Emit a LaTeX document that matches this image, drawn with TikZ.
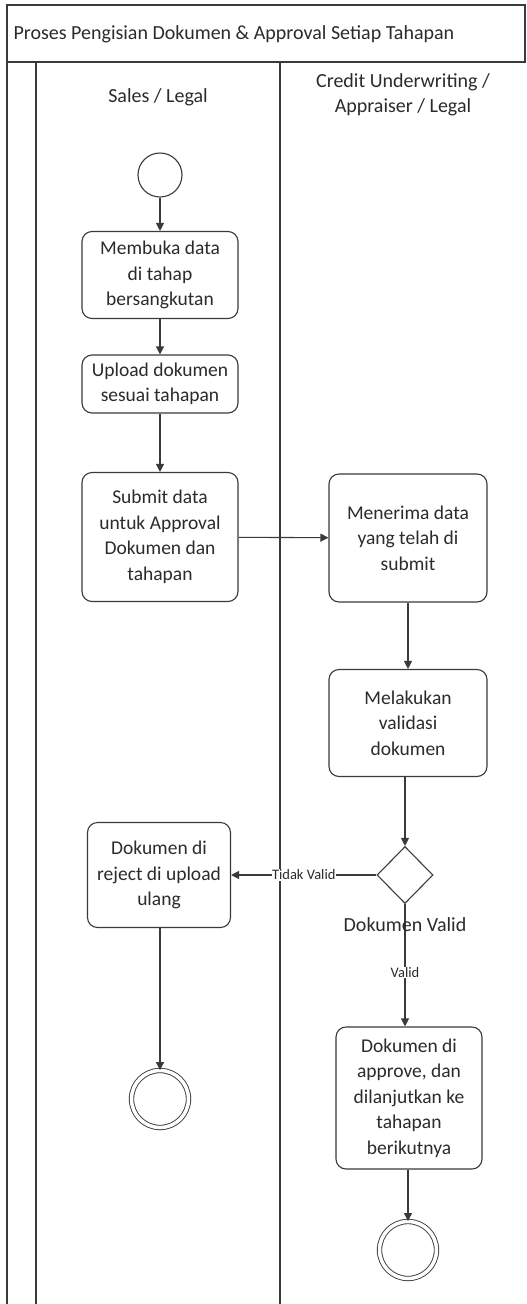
\documentclass[tikz,border=0pt]{standalone}
\usepackage{fontspec}
\setmainfont{Carlito}
\usetikzlibrary{arrows.meta,shapes.geometric}

\definecolor{ink}{HTML}{3A3A3A}
\definecolor{txt}{HTML}{2B2B2B}

\tikzset{
  lane/.style={draw=ink, line width=1.6pt},
  task/.style={draw=ink, line width=1.1pt, rounded corners=10pt, align=center,
    text=txt, font=\fontsize{19.5}{25.5}\selectfont, inner sep=0pt},
  startev/.style={draw=ink, line width=1.1pt, circle, minimum size=44pt, inner sep=0pt},
  endev/.style={draw=ink, circle, minimum size=57pt, inner sep=0pt,
    double distance=3.5pt, line width=0.9pt},
  gate/.style={draw=ink, line width=1.1pt, diamond, minimum width=56pt, minimum height=57pt, inner sep=0pt},
  flow/.style={draw=ink, line width=1.1pt, -{Triangle[length=8pt,width=8pt]}},
  flowlabel/.style={font=\fontsize{14.5}{16}\selectfont, text=txt, fill=white, inner sep=0.5pt},
  header/.style={text=txt, font=\fontsize{20}{25}\selectfont, align=center},
}

\begin{document}
\begin{tikzpicture}[x=1pt, y=-1pt]
\useasboundingbox[fill=white] (0,0) rectangle (527,1304);

% pool title bar and lane borders
\draw[lane] (7,1304) -- (7,5) -- (525,5) -- (525,62) -- (7,62);
\draw[lane] (36,62) -- (36,1304);
\draw[lane] (280,62) -- (280,1304);

\node[header, anchor=west] (title) at (10,34)
  {Proses Pengisian Dokumen \& Approval Setiap Tahapan};
\node[header] (lane1) at (158,97) {Sales / Legal};
\node[header] (lane2) at (403,95) {Credit Underwriting /\\Appraiser / Legal};

% left lane
\node[startev] (start) at (160,175) {};
\node[task, minimum width=156pt, minimum height=87pt] (open) at (160,275)
  {Membuka data\\di tahap\\bersangkutan};
\node[task, minimum width=156pt, minimum height=58pt] (upload) at (160,384)
  {Upload dokumen\\sesuai tahapan};
\node[task, minimum width=156pt, minimum height=129pt] (submit) at (160,537)
  {Submit data\\untuk Approval\\Dokumen dan\\tahapan};
\node[task, minimum width=143pt, minimum height=105pt] (reject) at (159,875)
  {Dokumen di\\reject di upload\\ulang};
\node[endev] (endL) at (160,1099) {};

% right lane
\node[task, minimum width=158pt, minimum height=128pt] (receive) at (408,538)
  {Menerima data\\yang telah di\\submit};
\node[task, minimum width=158pt, minimum height=107pt] (validate) at (408,723)
  {Melakukan\\validasi\\dokumen};
\node[gate] (check) at (405,875) {};
\node[task, minimum width=146pt, minimum height=142pt] (approve) at (409,1098)
  {Dokumen di\\approve, dan\\dilanjutkan ke\\tahapan\\berikutnya};
\node[endev] (endR) at (408,1250) {};

% sequence flows
\draw[flow] (start) -- (open);
\draw[flow] (open) -- (upload);
\draw[flow] (upload) -- (submit);
\draw[flow] (submit) -- (receive);
\draw[flow] (receive.south -| validate.north) -- (validate);
\draw[flow] (validate.south -| check.north) -- (check);
\draw[flow] (check) -- node[flowlabel, pos=0.5] {Tidak Valid} (reject);
\draw[flow] (check.south) -- node[flowlabel, pos=0.56] {Valid} (check.south |- approve.north);
\node[header] (checklbl) at (405,925) {Dokumen Valid};
\draw[flow] (reject.south -| endL.north) -- (endL);
\draw[flow] (approve.south -| endR.north) -- (endR);
\end{tikzpicture}
\end{document}
